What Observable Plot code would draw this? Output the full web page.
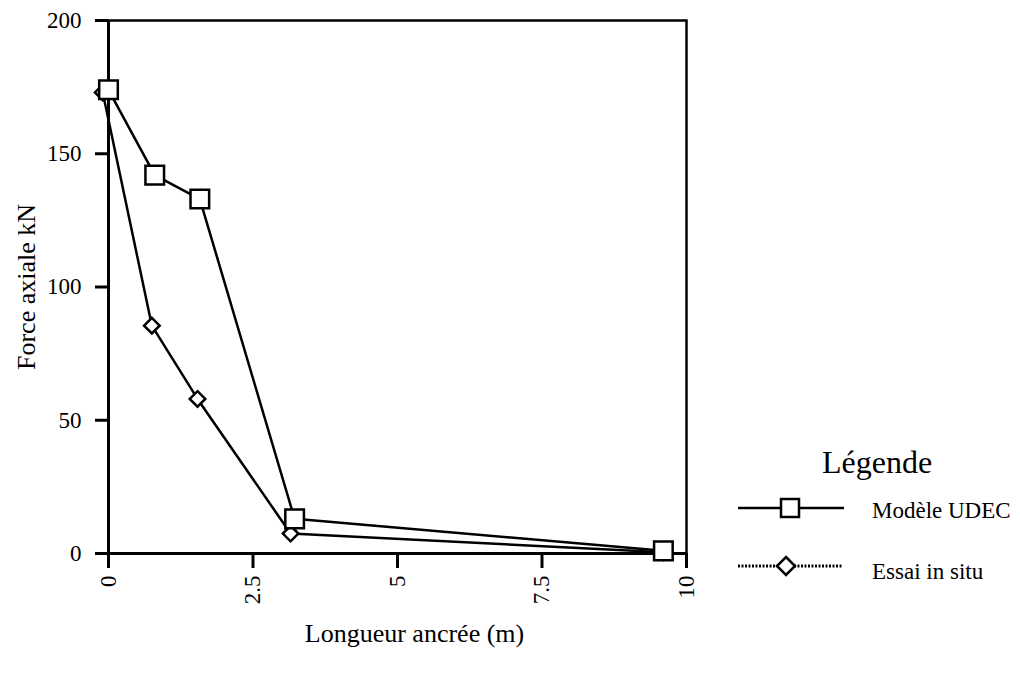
<!DOCTYPE html>
<html>
<head>
<meta charset="utf-8">
<script src="https://cdn.jsdelivr.net/npm/d3@7"></script>
<script src="https://cdn.jsdelivr.net/npm/@observablehq/plot@0.6"></script>
<style>
  html, body { margin: 0; padding: 0; background: #fff; }
  #wrap { position: relative; width: 1020px; height: 673px; font-family: "Liberation Serif", "DejaVu Serif", serif; }
  #legend { position: absolute; left: 0; top: 0; }
  #chart text { font-family: "Liberation Serif", serif !important; font-size: 23px !important; fill: #000; }
  #chart g[aria-label="y-axis label"] text, #chart .xlabel text { font-size: 26px !important; }
</style>
</head>
<body>
<div id="wrap"></div>
<script>
// Data
const udecX = [0, 0.8, 1.58, 3.22, 9.6];
const udecY = [174, 142, 133, 13, 1];
const essaiX = [-0.1, 0.75, 1.54, 3.15, 9.6];
const essaiY = [173, 85.5, 58, 7.5, 0.5];
const xTicks = [0, 2.5, 5, 7.5, 10];
const yTicks = [0, 50, 100, 150, 200];
const seriesNames = ["Modèle UDEC", "Essai in situ"];
const xLabel = "Longueur ancrée (m)";
const yLabel = "Force axiale kN";

const udec = udecX.map((x, i) => ({x, y: udecY[i]}));
const essai = essaiX.map((x, i) => ({x, y: essaiY[i]}));

const chart = Plot.plot({
  width: 1020,
  height: 673,
  marginLeft: 108,
  marginTop: 20,
  marginRight: 334,
  marginBottom: 120,
  style: {fontFamily: "Liberation Serif", fontSize: "23px", color: "#000", background: "#fff"},
  x: {domain: [0, 10]},
  y: {domain: [0, 200]},
  marks: [
    Plot.frame({stroke: "#000", strokeWidth: 2.5}),
    Plot.axisY({
      ticks: yTicks, tickSize: 13, tickPadding: 14, strokeWidth: 3,
      tickFormat: d => String(d),
      label: yLabel, labelAnchor: "center", labelArrow: "none", labelOffset: 92,
      fontSize: 23
    }),
    Plot.axisX({
      ticks: xTicks, tickSize: 15, tickPadding: 7, strokeWidth: 3,
      tickRotate: -90,
      tickFormat: d => String(d),
      label: null,
      fontSize: 23
    }),
    Plot.text([xLabel], {frameAnchor: "bottom", dx: 17, dy: 88, text: d => d, fill: "#000", className: "xlabel"}),
    Plot.ruleX([0], {stroke: "#000", strokeWidth: 3}),
    Plot.ruleY([0], {stroke: "#000", strokeWidth: 3}),
    Plot.line(essai, {x: "x", y: "y", stroke: "#000", strokeWidth: 2.5}),
    Plot.line(udec, {x: "x", y: "y", stroke: "#000", strokeWidth: 2.5}),
    Plot.dot(essai, {x: "x", y: "y", symbol: "diamond2", r: 7, fill: "#fff", stroke: "#000", strokeWidth: 2.5}),
    Plot.dot(udec, {x: "x", y: "y", symbol: "square", r: 10.5, fill: "#fff", stroke: "#000", strokeWidth: 2.5})
  ]
});
chart.setAttribute("id", "chart");
document.getElementById("wrap").appendChild(chart);

// Legend
const legend = document.createElementNS("http://www.w3.org/2000/svg", "svg");
legend.setAttribute("id", "legend");
legend.setAttribute("width", 1020);
legend.setAttribute("height", 673);
legend.innerHTML = `
  <g font-family="Liberation Serif" fill="#000">
    <text x="877" y="473" font-size="32" text-anchor="middle">Légende</text>
    <line x1="738" y1="508" x2="844" y2="508" stroke="#000" stroke-width="2.5"/>
    <rect x="781" y="499" width="18" height="18" fill="#fff" stroke="#000" stroke-width="2.5"/>
    <text x="872" y="518" font-size="23">${seriesNames[0]}</text>
    <line x1="738" y1="566" x2="842" y2="566" stroke="#000" stroke-width="3" stroke-dasharray="2,1.5"/>
    <path d="M786,557 L795,566 L786,575 L777,566 Z" fill="#fff" stroke="#000" stroke-width="2.5"/>
    <text x="872" y="579" font-size="23">${seriesNames[1]}</text>
  </g>`;
document.getElementById("wrap").appendChild(legend);
</script>
</body>
</html>
